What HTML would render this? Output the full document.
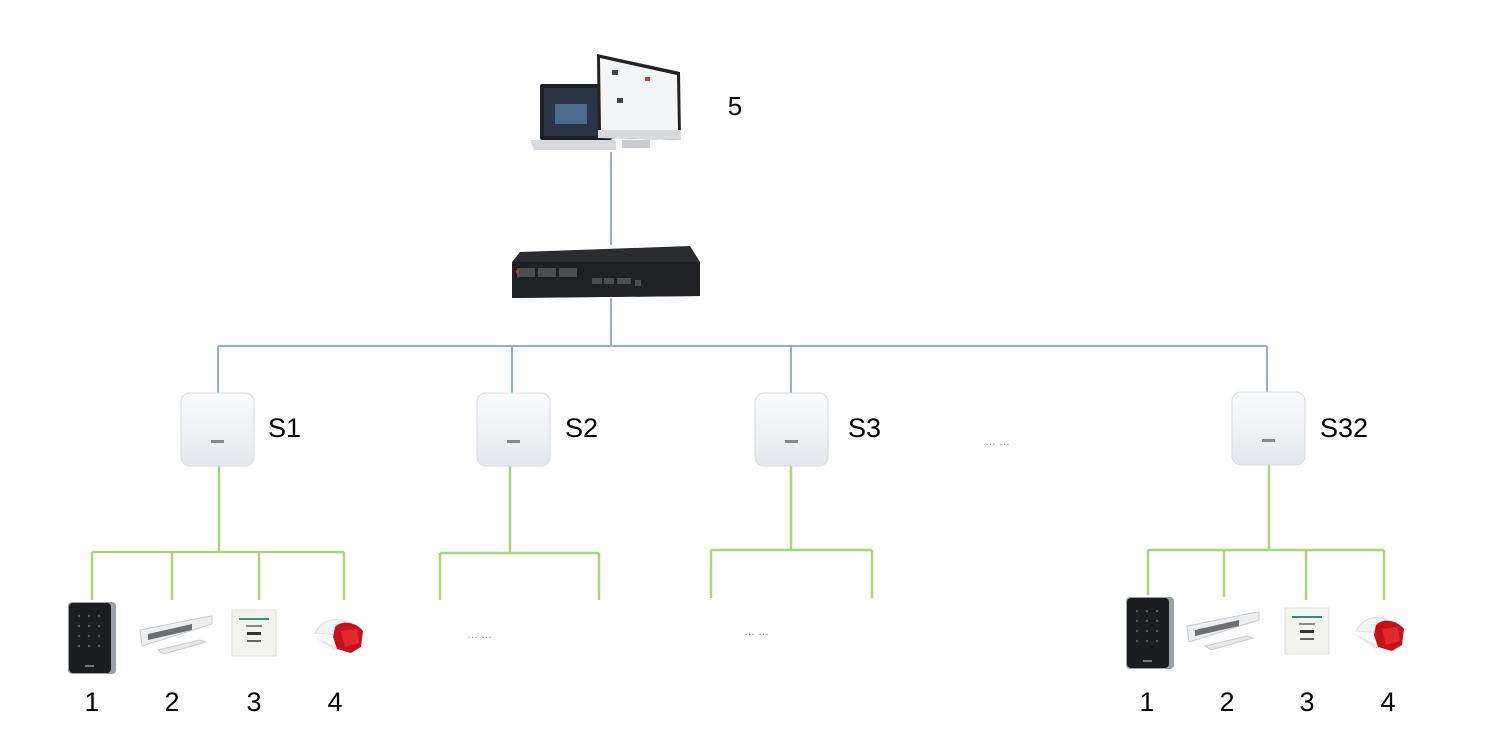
<!DOCTYPE html>
<html><head><meta charset="utf-8"><style>
html,body{margin:0;padding:0;background:#fff;}
svg{display:block;}
text{font-family:"Liberation Sans",Arial,sans-serif;fill:#000;}
</style></head><body>
<svg width="1500" height="744" viewBox="0 0 1500 744" xmlns="http://www.w3.org/2000/svg">
<defs>
  <linearGradient id="ctl" x1="0" y1="0" x2="0" y2="1">
    <stop offset="0" stop-color="#fafbfd"/><stop offset="0.45" stop-color="#f1f3f6"/><stop offset="1" stop-color="#e4e7ec"/>
  </linearGradient>
  <g id="ctrl">
    <rect x="0" y="0" width="73" height="73" rx="9" fill="url(#ctl)" stroke="#d6dae0" stroke-width="1"/>
    <rect x="30" y="47" width="13" height="3" fill="#888"/>
  </g>
  <g id="keypad">
    <rect x="0" y="0" width="48" height="72" rx="4" fill="#9ba0a6"/>
    <rect x="1" y="1" width="42" height="70" rx="4" fill="#1b1d21"/>
    <g fill="#555">
      <circle cx="11" cy="14" r="1.2"/><circle cx="21" cy="14" r="1.2"/><circle cx="31" cy="14" r="1.2"/>
      <circle cx="11" cy="24" r="1.2"/><circle cx="21" cy="24" r="1.2"/><circle cx="31" cy="24" r="1.2"/>
      <circle cx="11" cy="34" r="1.2"/><circle cx="21" cy="34" r="1.2"/><circle cx="31" cy="34" r="1.2"/>
      <circle cx="11" cy="44" r="1.2"/><circle cx="21" cy="44" r="1.2"/><circle cx="31" cy="44" r="1.2"/>
    </g>
    <rect x="17" y="63" width="9" height="2" fill="#777"/>
  </g>
  <g id="lock">
    <polygon points="0,18 60,6 72,4 72,12 2,34" fill="#eceef0" stroke="#c8cbcf" stroke-width="1"/>
    <polygon points="8,22 52,12 52,18 8,28" fill="#6d6f72"/>
    <polygon points="18,38 60,28 66,30 24,42" fill="#e6e8ea" stroke="#c8cbcf" stroke-width="1"/>
  </g>
  <g id="button">
    <rect x="0" y="0" width="44" height="46" fill="#f3f3ee" stroke="#dcdcd6" stroke-width="1"/>
    <rect x="7" y="8" width="30" height="2" fill="#3a8a7a"/>
    <rect x="14" y="15" width="16" height="2" fill="#888"/>
    <rect x="15" y="22" width="14" height="3" fill="#333"/>
    <rect x="15" y="30" width="14" height="2" fill="#666"/>
  </g>
  <g id="siren">
    <path d="M4,16 C10,4 22,0 34,4 L28,18 Z" fill="#f4f4f4" stroke="#ddd" stroke-width="1"/>
    <path d="M0,18 L26,30 L24,34 Z" fill="#e8e8e8"/>
    <path d="M24,10 C32,2 46,6 52,14 L50,30 L40,36 L26,32 L22,20 Z" fill="#c8101a"/>
    <path d="M30,14 L46,12 L48,26 L34,30 Z" fill="#e02a30"/>
  </g>
</defs>

<!-- blue network lines -->
<g stroke="#8eb0d4" stroke-width="2" fill="none">
  <line x1="611" y1="152" x2="611" y2="245"/>
  <line x1="611" y1="298" x2="611" y2="346"/>
  <line x1="218" y1="346" x2="1267" y2="346"/>
  <line x1="218" y1="346" x2="218" y2="394"/>
  <line x1="512" y1="346" x2="512" y2="394"/>
  <line x1="791" y1="346" x2="791" y2="394"/>
  <line x1="1267" y1="346" x2="1267" y2="392"/>
</g>

<!-- green lines -->
<g stroke="#a8d47c" stroke-width="2.5" fill="none">
  <line x1="219" y1="465" x2="219" y2="552"/>
  <line x1="92" y1="552" x2="344" y2="552"/>
  <line x1="92" y1="552" x2="92" y2="600"/>
  <line x1="172" y1="552" x2="172" y2="600"/>
  <line x1="259" y1="552" x2="259" y2="600"/>
  <line x1="344" y1="552" x2="344" y2="600"/>

  <line x1="510" y1="465" x2="510" y2="553"/>
  <line x1="440" y1="553" x2="599" y2="553"/>
  <line x1="440" y1="553" x2="440" y2="600"/>
  <line x1="599" y1="553" x2="599" y2="600"/>

  <line x1="791" y1="464" x2="791" y2="550"/>
  <line x1="711" y1="550" x2="872" y2="550"/>
  <line x1="711" y1="550" x2="711" y2="598"/>
  <line x1="872" y1="550" x2="872" y2="598"/>

  <line x1="1269" y1="464" x2="1269" y2="550"/>
  <line x1="1148" y1="550" x2="1384" y2="550"/>
  <line x1="1148" y1="550" x2="1148" y2="595"/>
  <line x1="1224" y1="550" x2="1224" y2="597"/>
  <line x1="1306" y1="550" x2="1306" y2="600"/>
  <line x1="1384" y1="550" x2="1384" y2="600"/>
</g>

<!-- computer -->
<g>
  <rect x="540" y="84" width="72" height="56" rx="2" fill="#1c1f24"/>
  <rect x="544" y="88" width="64" height="48" fill="#2a3442"/>
  <rect x="555" y="104" width="32" height="20" fill="#4d6a8e"/>
  <path d="M530,140 L616,140 L616,150 L534,150 Z" fill="#d8d9dc"/>
  <polygon points="597,54 680,72 681,140 598,138" fill="#222"/>
  <polygon points="600,58 677,75 678,130 601,130" fill="#f4f5f7"/>
  <rect x="612" y="70" width="6" height="5" fill="#444"/>
  <rect x="645" y="77" width="5" height="4" fill="#d33"/>
  <rect x="617" y="98" width="6" height="5" fill="#444"/>
  <polygon points="598,130 681,130 681,140 598,138" fill="#d8dadd"/>
  <rect x="622" y="140" width="28" height="8" fill="#c9cbce"/>
  <text x="735" y="115" font-size="26" text-anchor="middle">5</text>
</g>

<!-- switch -->
<g>
  <polygon points="520,252 690,246 700,262 700,296 512,298 512,262" fill="#2a2c30"/>
  <polygon points="512,262 700,262 700,296 512,298" fill="#1f2124"/>
  <g fill="#4a4d52">
    <rect x="517" y="268" width="18" height="9"/><rect x="538" y="268" width="18" height="9"/><rect x="559" y="268" width="18" height="9"/>
    <rect x="592" y="278" width="10" height="6"/><rect x="604" y="278" width="10" height="6"/><rect x="617" y="278" width="14" height="6"/>
    <rect x="635" y="280" width="6" height="6"/>
  </g>
  <rect x="516" y="270" width="3" height="3" fill="#c33"/>
</g>

<!-- controllers -->
<use href="#ctrl" x="181" y="393"/>
<use href="#ctrl" x="477" y="393"/>
<use href="#ctrl" x="755" y="393"/>
<use href="#ctrl" x="1232" y="392"/>
<g font-size="27">
  <text x="268" y="437">S1</text>
<text x="565" y="437">S2</text>
<text x="848" y="437">S3</text>
<text x="1320" y="437">S32</text>
</g>

<!-- ellipses -->
<g font-size="11" fill="#888">
  <text x="985" y="445" style="fill:#888">… …</text>
  <text x="467" y="638" style="fill:#888">… …</text>
  <text x="744" y="635" style="fill:#888">… …</text>
</g>

<!-- devices left -->
<use href="#keypad" x="68" y="602"/>
<use href="#lock" x="140" y="612"/>
<use href="#button" x="232" y="610"/>
<use href="#siren" x="311" y="617"/>
<!-- devices right -->
<use href="#keypad" x="1126" y="597"/>
<use href="#lock" x="1187" y="608"/>
<use href="#button" x="1285" y="608"/>
<use href="#siren" x="1352" y="615"/>

<g font-size="27" text-anchor="middle">
  <text x="92" y="711">1</text><text x="172" y="711">2</text><text x="254" y="711">3</text><text x="335" y="711">4</text>
  <text x="1147" y="711">1</text><text x="1227" y="711">2</text><text x="1307" y="711">3</text><text x="1388" y="711">4</text>
</g>
</svg>
</body></html>
